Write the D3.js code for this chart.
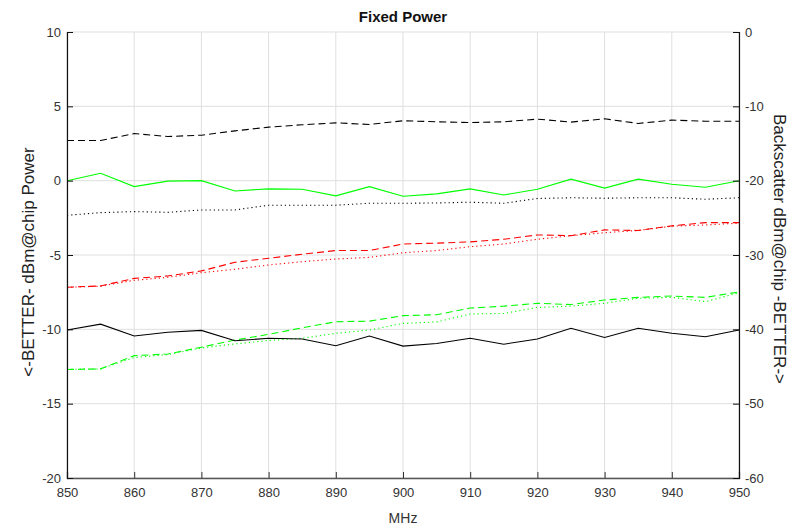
<!DOCTYPE html>
<html>
<head>
<meta charset="utf-8">
<script src="https://cdn.jsdelivr.net/npm/d3@7"></script>
<style>
  body { margin: 0; background: #fff; }
  svg { display: block; font-family: "Liberation Sans", Arial, Helvetica, sans-serif; }
</style>
</head>
<body>
<svg id="chart" width="789" height="529"></svg>
<script>
// ---- data ----
const freqs = [850,855,860,865,870,875,880,885,890,895,900,905,910,915,920,925,930,935,940,945,950];
const blackDashed = [2.7,2.7,3.17,2.97,3.06,3.35,3.6,3.76,3.89,3.78,4.03,3.96,3.91,3.96,4.14,3.94,4.16,3.85,4.07,4.0,4.0];
const greenSolid  = [0.0,0.5,-0.4,-0.03,0.0,-0.69,-0.55,-0.58,-1.02,-0.4,-1.05,-0.89,-0.55,-0.96,-0.58,0.1,-0.5,0.1,-0.24,-0.44,0.0];
const blackDotted = [-2.33,-2.15,-2.08,-2.13,-1.97,-1.97,-1.65,-1.65,-1.65,-1.52,-1.52,-1.5,-1.45,-1.52,-1.2,-1.15,-1.18,-1.15,-1.15,-1.25,-1.15];
const redDashed   = [-7.17,-7.08,-6.57,-6.41,-6.07,-5.49,-5.22,-4.95,-4.7,-4.7,-4.26,-4.2,-4.12,-3.94,-3.65,-3.7,-3.31,-3.35,-3.04,-2.82,-2.82];
const redDotted   = [-7.17,-7.1,-6.7,-6.5,-6.19,-5.96,-5.67,-5.45,-5.27,-5.16,-4.85,-4.7,-4.44,-4.26,-3.94,-3.7,-3.5,-3.35,-3.06,-2.98,-2.86];
const greenDashed = [-12.7,-12.66,-11.77,-11.66,-11.2,-10.72,-10.34,-9.9,-9.49,-9.45,-9.08,-9.02,-8.57,-8.44,-8.25,-8.33,-8.03,-7.85,-7.76,-7.85,-7.49];
const greenDotted = [-12.7,-12.66,-11.9,-11.7,-11.25,-10.98,-10.75,-10.6,-10.27,-10.05,-9.6,-9.5,-8.97,-8.93,-8.53,-8.44,-8.25,-7.91,-7.85,-8.14,-7.54];
const blackSolid  = [-10.05,-9.65,-10.45,-10.2,-10.07,-10.77,-10.6,-10.65,-11.1,-10.45,-11.13,-10.95,-10.6,-11.0,-10.65,-9.93,-10.55,-9.93,-10.26,-10.5,-10.05];

const xTicks = [850,860,870,880,890,900,910,920,930,940,950];
const leftTicks = [-20,-15,-10,-5,0,5,10];
const rightTicks = [-60,-50,-40,-30,-20,-10,0];

const titleText = "Fixed Power";
const xLabel = "MHz";
const leftLabel = "<-BETTER- dBm@chip Power";
const rightLabel = "Backscatter dBm@chip -BETTER->";

// ---- layout ----
const L = 67, R = 739, T = 32, B = 478;
const svg = d3.select("#chart");

const x = d3.scaleLinear().domain([850, 950]).range([L, R]);
const yL = d3.scaleLinear().domain([-20, 10]).range([B, T]);
const yR = d3.scaleLinear().domain([-60, 0]).range([B, T]);
const fmt = d => String(d);

// grid
const grid = svg.append("g");
grid.selectAll("line.vx").data(xTicks).join("line")
  .attr("x1", d => x(d)).attr("x2", d => x(d)).attr("y1", T).attr("y2", B)
  .attr("stroke", "#dfdfdf").attr("stroke-width", 1);
grid.selectAll("line.hy").data(leftTicks).join("line")
  .attr("x1", L).attr("x2", R).attr("y1", d => yL(d)).attr("y2", d => yL(d))
  .attr("stroke", "#dfdfdf").attr("stroke-width", 1);

// series
const series = [
  {v: blackDashed, c: "#000", dash: "7,4"},
  {v: greenSolid,  c: "#00ff00", dash: null},
  {v: blackDotted, c: "#000", dash: "1.2,3"},
  {v: redDashed,   c: "#ff0000", dash: "7,4"},
  {v: redDotted,   c: "#ff0000", dash: "1.2,3"},
  {v: greenDashed, c: "#00ff00", dash: "7,4"},
  {v: greenDotted, c: "#00ff00", dash: "1.2,3"},
  {v: blackSolid,  c: "#000", dash: null}
];
const line = d3.line().x((d, i) => x(freqs[i])).y(d => yL(d));
svg.append("g").selectAll("path").data(series).join("path")
  .attr("d", s => line(s.v))
  .attr("fill", "none")
  .attr("stroke", s => s.c)
  .attr("stroke-width", 1.1)
  .attr("stroke-dasharray", s => s.dash);

// axes
const fs = "13px";
const xAxis = d3.axisBottom(x).tickValues(xTicks).tickSize(-6).tickPadding(10).tickFormat(fmt);
const gx = svg.append("g").attr("transform", `translate(0,${B})`).call(xAxis);
gx.select(".domain").attr("stroke", "#555").attr("stroke-width", 1.3);
gx.selectAll(".tick line").attr("stroke", "#333");
gx.selectAll("text").attr("font-size", fs).attr("fill", "#333").attr("font-family", null);

const lAxis = d3.axisLeft(yL).tickValues(leftTicks).tickSize(-6).tickPadding(6).tickFormat(fmt);
const gl = svg.append("g").attr("transform", `translate(${L},0)`).call(lAxis);
gl.select(".domain").attr("stroke", "#111").attr("stroke-width", 1.2);
gl.selectAll(".tick line").attr("stroke", "#111");
gl.selectAll("text").attr("font-size", fs).attr("fill", "#333").attr("font-family", null);

const rAxis = d3.axisRight(yR).tickValues(rightTicks).tickSize(-6).tickPadding(6).tickFormat(fmt);
const gr = svg.append("g").attr("transform", `translate(${R},0)`).call(rAxis);
gr.select(".domain").attr("stroke", "#111").attr("stroke-width", 1.2);
gr.selectAll(".tick line").attr("stroke", "#111");
gr.selectAll("text").attr("font-size", fs).attr("fill", "#333").attr("font-family", null);

// title and labels
svg.append("text").attr("x", (L + R) / 2).attr("y", 22).attr("text-anchor", "middle")
  .attr("font-size", "15px").attr("font-weight", "bold").attr("fill", "#111").text(titleText);
svg.append("text").attr("x", (L + R) / 2).attr("y", 523).attr("text-anchor", "middle")
  .attr("font-size", "14px").attr("fill", "#333").text(xLabel);
svg.append("text").attr("transform", `translate(34,262) rotate(-90)`).attr("text-anchor", "middle")
  .attr("font-size", "17px").attr("fill", "#222").text(leftLabel);
svg.append("text").attr("transform", `translate(774,249) rotate(90)`).attr("text-anchor", "middle")
  .attr("font-size", "17px").attr("fill", "#222").text(rightLabel);
</script>
</body>
</html>
